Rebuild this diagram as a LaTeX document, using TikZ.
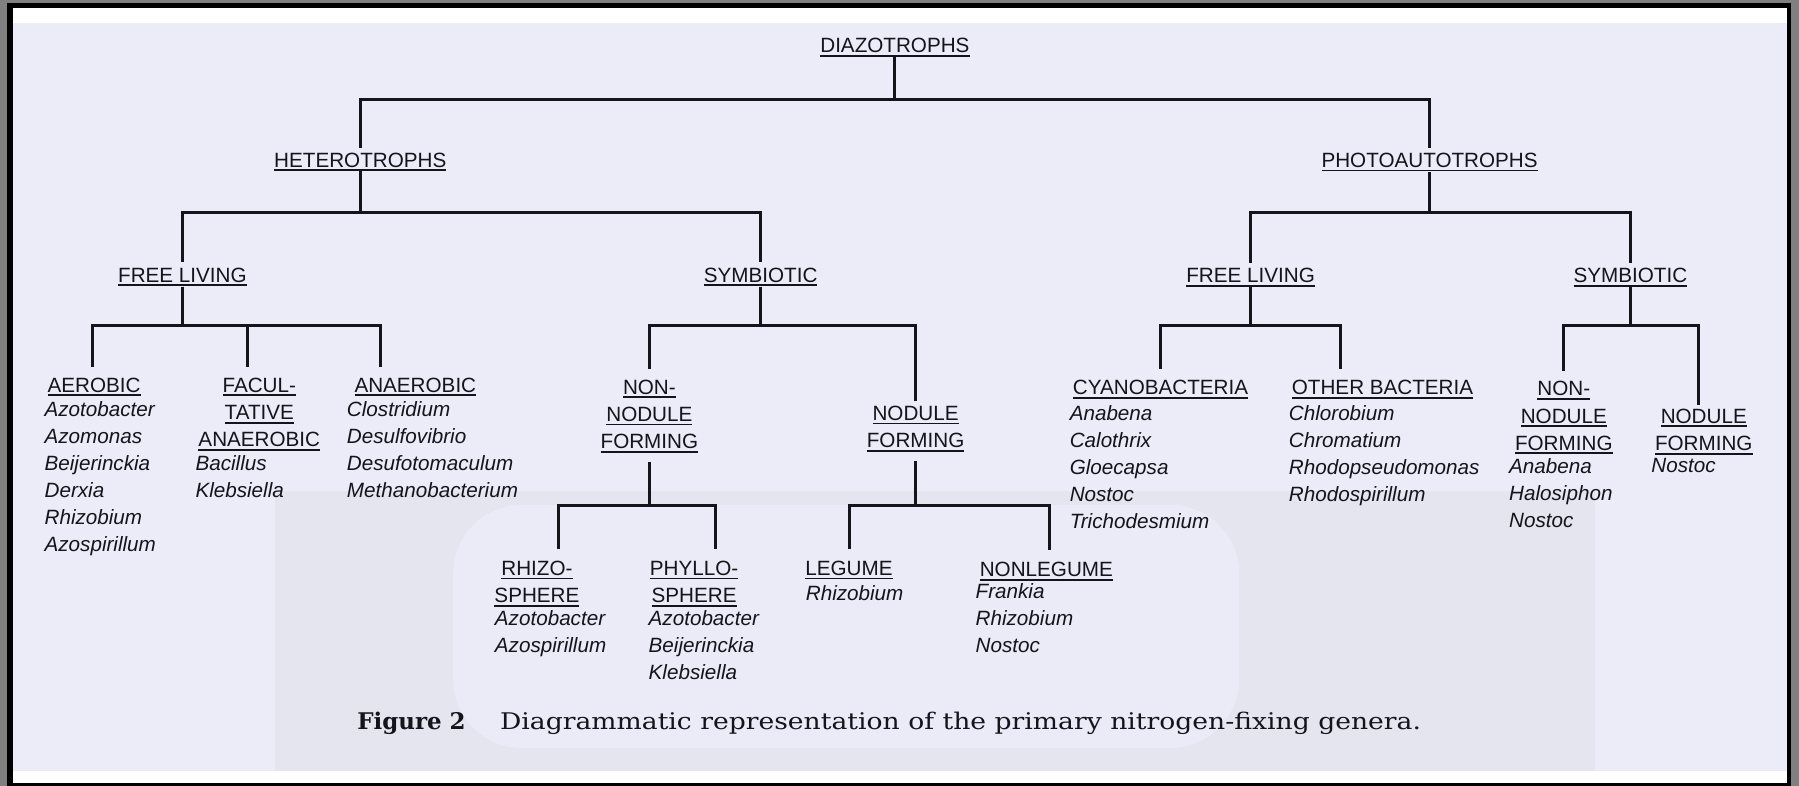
\documentclass[tikz,border=0pt]{standalone}
\usepackage{fontspec}
\setmainfont{Liberation Sans}
\newfontfamily\capplain{DejaVu Serif}
\newfontfamily\capfont[FakeStretch=1.16]{DejaVu Serif}
\definecolor{paper}{RGB}{235,236,247}
\definecolor{ink}{RGB}{20,20,26}
\definecolor{framegray}{RGB}{128,128,128}
\definecolor{shadeA}{RGB}{228,229,239}
\definecolor{shadeB}{RGB}{234,235,246}
\newcommand\hul[1]{\leavevmode\setbox0=\hbox{#1}\rlap{\rule[-1.7pt]{\wd0}{0.8pt}}\box0}
\begin{document}
\begin{tikzpicture}[x=0.5pt,y=-0.5pt,
  hdr/.style={font=\fontsize{9}{11.9}\selectfont, align=center, inner sep=0pt, text=ink, anchor=north},
  spc/.style={font=\fontsize{9}{11.8}\selectfont\itshape, align=left, inner sep=0pt, text=ink, anchor=north west},
  conn/.style={line width=1.3pt, draw=ink}]
\useasboundingbox (0,0) rectangle (1568,685);
% frame and paper
\fill[framegray] (0,0) rectangle (1568,685);
\fill[black] (5.8,2.9) rectangle (1560.8,685);
\fill[white] (11.1,7.2) rectangle (1557.3,682.5);
\fill[paper] (11.1,20) rectangle (1557.3,672);
\fill[shadeA] (240,428) rectangle (1390,672);
\fill[shadeB, rounded corners=30pt] (395,440) rectangle (1080,652);
% bar levels
\coordinate (b1) at (0,87);
\coordinate (b2) at (0,185);
\coordinate (b3) at (0,284);
\coordinate (b4) at (0,441);
% headers
\node[hdr] (dia) at (780,33) {\hul{DIAZOTROPHS}};
\node[hdr] (het) at (314,132.6) {\hul{HETEROTROPHS}};
\node[hdr] (pho) at (1246,133) {\hul{PHOTOAUTOTROPHS}};
\node[hdr] (flL) at (159,233) {\hul{FREE LIVING}};
\node[hdr] (syL) at (663,233) {\hul{SYMBIOTIC}};
\node[hdr] (flR) at (1090,233.5) {\hul{FREE LIVING}};
\node[hdr] (syR) at (1421,233.5) {\hul{SYMBIOTIC}};
\node[hdr] (aer) at (82,329) {\hul{AEROBIC}};
\node[hdr] (fac) at (226,329) {\hul{FACUL-}\\\hul{TATIVE}\\\hul{ANAEROBIC}};
\node[hdr] (ana) at (362,329) {\hul{ANAEROBIC}};
\node[hdr] (nnfL) at (566,330.6) {\hul{NON-}\\\hul{NODULE}\\\hul{FORMING}};
\node[hdr] (nfL) at (798,353.6) {\hul{NODULE}\\\hul{FORMING}};
\node[hdr] (cya) at (1011.5,331) {\hul{CYANOBACTERIA}};
\node[hdr] (oth) at (1205,331) {\hul{OTHER BACTERIA}};
\node[hdr] (nnfR) at (1363,332) {\hul{NON-}\\\hul{NODULE}\\\hul{FORMING}};
\node[hdr] (nfR) at (1485,356) {\hul{NODULE}\\\hul{FORMING}};
\node[hdr] (rhi) at (468,488.6) {\hul{RHIZO-}\\\hul{SPHERE}};
\node[hdr] (phy) at (605,488.6) {\hul{PHYLLO-}\\\hul{SPHERE}};
\node[hdr] (leg) at (740,488.6) {\hul{LEGUME}};
\node[hdr] (nle) at (912,489.6) {\hul{NONLEGUME}};
% genera
\node[spc] (aerS) at (38.5,349.5) {Azotobacter\\Azomonas\\Beijerinckia\\Derxia\\Rhizobium\\Azospirillum};
\node[spc] (facS) at (170,397) {Bacillus\\Klebsiella};
\node[spc] (anaS) at (302,349.5) {Clostridium\\Desulfovibrio\\Desufotomaculum\\Methanobacterium};
\node[spc] (cyaS) at (932,353) {Anabena\\Calothrix\\Gloecapsa\\Nostoc\\Trichodesmium};
\node[spc] (othS) at (1123,353) {Chlorobium\\Chromatium\\Rhodopseudomonas\\Rhodospirillum};
\node[spc] (nnfRS) at (1315,399.5) {Anabena\\Halosiphon\\Nostoc};
\node[spc] (nfRS) at (1439,399) {Nostoc};
\node[spc] (rhiS) at (431,532) {Azotobacter\\Azospirillum};
\node[spc] (phyS) at (565,532) {Azotobacter\\Beijerinckia\\Klebsiella};
\node[spc] (legS) at (702,510) {Rhizobium};
\node[spc] (nleS) at (850,508) {Frankia\\Rhizobium\\Nostoc};
% connectors
\draw[conn] (dia.south) -- (dia.south |- b1) -| ([yshift=2pt]het.north);
\draw[conn] (dia.south) -- (dia.south |- b1) -| ([yshift=2pt]pho.north);
\draw[conn] (het.south) -- (het.south |- b2) -| ([yshift=2.2pt]flL.north);
\draw[conn] (het.south) -- (het.south |- b2) -| ([yshift=2.2pt]syL.north);
\draw[conn] (pho.south) -- (pho.south |- b2) -| ([yshift=2.2pt]flR.north);
\draw[conn] (pho.south) -- (pho.south |- b2) -| ([yshift=2.2pt]syR.north);
\draw[conn] (flL.south) -- (flL.south |- b3) -| ([xshift=-0.5pt,yshift=4.5pt]aer.north);
\draw[conn] (flL.south) -- (flL.south |- b3) -| ([xshift=-5pt,yshift=4.5pt]fac.north);
\draw[conn] (flL.south) -- (flL.south |- b3) -| ([xshift=-15pt,yshift=4.5pt]ana.north);
\draw[conn] (syL.south) -- (syL.south |- b3) -| ([yshift=4.5pt]nnfL.north);
\draw[conn] (syL.south) -- (syL.south |- b3) -| ([yshift=2pt]nfL.north);
\draw[conn] (flR.south) -- (flR.south |- b3) -| ([yshift=4.5pt]cya.north);
\draw[conn] (flR.south) -- (flR.south |- b3) -| ([xshift=-18.5pt,yshift=4.5pt]oth.north);
\draw[conn] (syR.south) -- (syR.south |- b3) -| ([yshift=4.5pt]nnfR.north);
\draw[conn] (syR.south) -- (syR.south |- b3) -| ([xshift=-2.5pt,yshift=1.5pt]nfR.north);
\draw[conn] ([yshift=-4pt]nnfL.south) -- (nnfL.south |- b4) -| ([xshift=9.5pt,yshift=5pt]rhi.north);
\draw[conn] ([yshift=-4pt]nnfL.south) -- (nnfL.south |- b4) -| ([xshift=9.5pt,yshift=5pt]phy.north);
\draw[conn] ([yshift=-4pt]nfL.south) -- (nfL.south |- b4) -| ([yshift=5pt]leg.north);
\draw[conn] ([yshift=-4pt]nfL.south) -- (nfL.south |- b4) -| ([xshift=1.5pt,yshift=5pt]nle.north);
% caption
\node[anchor=base west, inner sep=0pt, text=ink] (cap) at (311,636)
  {{\capplain\fontsize{10}{12}\selectfont\bfseries Figure 2}\hspace{15pt}{\capfont\fontsize{10}{12}\selectfont Diagrammatic representation of the primary nitrogen-fixing genera.}};
\end{tikzpicture}
\end{document}
